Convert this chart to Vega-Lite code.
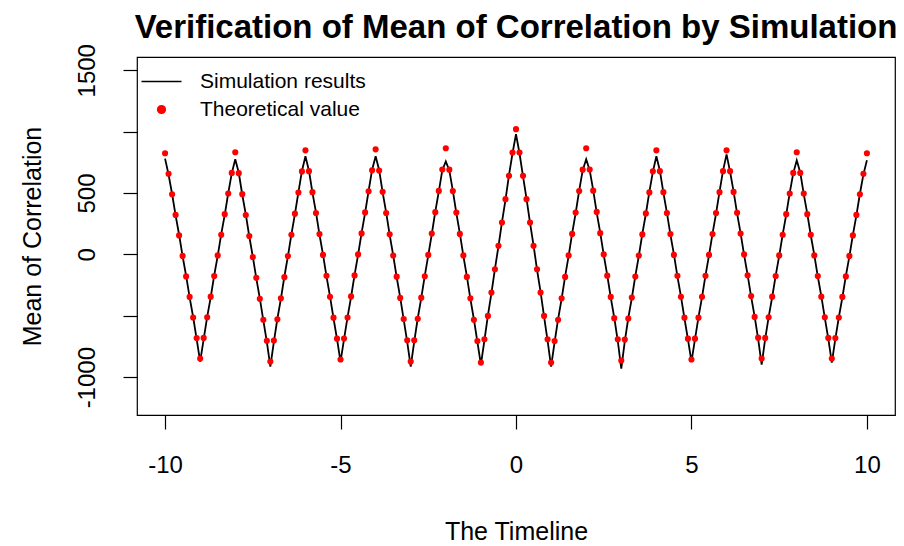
{
  "$schema": "https://vega.github.io/schema/vega-lite/v6.json",
  "width": 758,
  "height": 358,
  "autosize": {"type": "none"},
  "padding": {"left": 137, "top": 57, "right": 9, "bottom": 131},
  "background": "white",
  "title": {
    "text": "Verification of Mean of Correlation by Simulation",
    "font": "Liberation Sans",
    "fontSize": 33,
    "fontWeight": "bold",
    "color": "black",
    "anchor": "middle",
    "baseline": "alphabetic",
    "offset": -27
  },
  "config": {
    "view": {"stroke": "black", "strokeWidth": 1.2},
    "font": "Liberation Sans",
    "axis": {
      "grid": false,
      "domain": false,
      "tickColor": "black",
      "tickSize": 14,
      "tickWidth": 1.2,
      "labelFont": "Liberation Sans",
      "labelFontSize": 24,
      "labelColor": "black",
      "titleFont": "Liberation Sans",
      "titleFontSize": 25,
      "titleFontWeight": "normal",
      "titleColor": "black"
    }
  },
  "data": {
    "values": [
      {"x": -10, "t": 824, "s": 780}, {"x": -9.9, "t": 657, "s": 650}, {"x": -9.8, "t": 490, "s": 492}, {"x": -9.7, "t": 322, "s": 318}, {"x": -9.6, "t": 155, "s": 160},
      {"x": -9.5, "t": -12, "s": -15}, {"x": -9.4, "t": -179, "s": -175}, {"x": -9.3, "t": -346, "s": -350}, {"x": -9.2, "t": -514, "s": -510}, {"x": -9.1, "t": -681, "s": -690},
      {"x": -9, "t": -848, "s": -873}, {"x": -8.9, "t": -680, "s": -690}, {"x": -8.8, "t": -512, "s": -508}, {"x": -8.7, "t": -344, "s": -350}, {"x": -8.6, "t": -176, "s": -170},
      {"x": -8.5, "t": -8, "s": -12}, {"x": -8.4, "t": 160, "s": 165}, {"x": -8.3, "t": 328, "s": 322}, {"x": -8.2, "t": 496, "s": 500}, {"x": -8.1, "t": 664, "s": 660},
      {"x": -8, "t": 832, "s": 775}, {"x": -7.9, "t": 662, "s": 665}, {"x": -7.8, "t": 491, "s": 486}, {"x": -7.7, "t": 321, "s": 326}, {"x": -7.6, "t": 150, "s": 146},
      {"x": -7.5, "t": -21, "s": -18}, {"x": -7.4, "t": -191, "s": -196}, {"x": -7.3, "t": -362, "s": -358}, {"x": -7.2, "t": -532, "s": -538}, {"x": -7.1, "t": -703, "s": -712},
      {"x": -7, "t": -873, "s": -913}, {"x": -6.9, "t": -701, "s": -712}, {"x": -6.8, "t": -529, "s": -524}, {"x": -6.7, "t": -357, "s": -362}, {"x": -6.6, "t": -185, "s": -180},
      {"x": -6.5, "t": -13, "s": -16}, {"x": -6.4, "t": 160, "s": 164}, {"x": -6.3, "t": 332, "s": 328}, {"x": -6.2, "t": 504, "s": 508}, {"x": -6.1, "t": 676, "s": 680},
      {"x": -6, "t": 848, "s": 800}, {"x": -5.9, "t": 678, "s": 682}, {"x": -5.8, "t": 507, "s": 503}, {"x": -5.7, "t": 337, "s": 342}, {"x": -5.6, "t": 166, "s": 162},
      {"x": -5.5, "t": -4, "s": 0}, {"x": -5.4, "t": -174, "s": -178}, {"x": -5.3, "t": -345, "s": -341}, {"x": -5.2, "t": -515, "s": -520}, {"x": -5.1, "t": -686, "s": -690},
      {"x": -5, "t": -856, "s": -873}, {"x": -4.9, "t": -685, "s": -690}, {"x": -4.8, "t": -514, "s": -510}, {"x": -4.7, "t": -342, "s": -347}, {"x": -4.6, "t": -171, "s": -167},
      {"x": -4.5, "t": 0, "s": -4}, {"x": -4.4, "t": 171, "s": 175}, {"x": -4.3, "t": 342, "s": 338}, {"x": -4.2, "t": 514, "s": 518}, {"x": -4.1, "t": 685, "s": 690},
      {"x": -4, "t": 856, "s": 800}, {"x": -3.9, "t": 683, "s": 688}, {"x": -3.8, "t": 510, "s": 505}, {"x": -3.7, "t": 337, "s": 342}, {"x": -3.6, "t": 164, "s": 160},
      {"x": -3.5, "t": -9, "s": -5}, {"x": -3.4, "t": -181, "s": -186}, {"x": -3.3, "t": -354, "s": -350}, {"x": -3.2, "t": -527, "s": -532}, {"x": -3.1, "t": -700, "s": -712},
      {"x": -3, "t": -873, "s": -913}, {"x": -2.9, "t": -699, "s": -710}, {"x": -2.8, "t": -525, "s": -520}, {"x": -2.7, "t": -352, "s": -356}, {"x": -2.6, "t": -178, "s": -174},
      {"x": -2.5, "t": -4, "s": -8}, {"x": -2.4, "t": 170, "s": 166}, {"x": -2.3, "t": 344, "s": 349}, {"x": -2.2, "t": 517, "s": 512}, {"x": -2.1, "t": 691, "s": 686},
      {"x": -2, "t": 865, "s": 758}, {"x": -1.9, "t": 690, "s": 684}, {"x": -1.8, "t": 516, "s": 520}, {"x": -1.7, "t": 341, "s": 336}, {"x": -1.6, "t": 167, "s": 171},
      {"x": -1.5, "t": -8, "s": -12}, {"x": -1.4, "t": -183, "s": -179}, {"x": -1.3, "t": -357, "s": -362}, {"x": -1.2, "t": -532, "s": -528}, {"x": -1.1, "t": -706, "s": -712},
      {"x": -1, "t": -881, "s": -897}, {"x": -0.9, "t": -691, "s": -700}, {"x": -0.8, "t": -501, "s": -496}, {"x": -0.7, "t": -311, "s": -316}, {"x": -0.6, "t": -121, "s": -117},
      {"x": -0.5, "t": 70, "s": 66}, {"x": -0.4, "t": 260, "s": 264}, {"x": -0.3, "t": 450, "s": 445}, {"x": -0.2, "t": 640, "s": 645}, {"x": -0.1, "t": 830, "s": 822},
      {"x": 0, "t": 1020, "s": 980}, {"x": 0.1, "t": 830, "s": 824}, {"x": 0.2, "t": 640, "s": 636}, {"x": 0.3, "t": 450, "s": 455}, {"x": 0.4, "t": 260, "s": 256},
      {"x": 0.5, "t": 70, "s": 74}, {"x": 0.6, "t": -121, "s": -125}, {"x": 0.7, "t": -311, "s": -306}, {"x": 0.8, "t": -501, "s": -506}, {"x": 0.9, "t": -691, "s": -702},
      {"x": 1, "t": -881, "s": -913}, {"x": 1.1, "t": -706, "s": -715}, {"x": 1.2, "t": -532, "s": -527}, {"x": 1.3, "t": -357, "s": -362}, {"x": 1.4, "t": -183, "s": -178},
      {"x": 1.5, "t": -8, "s": -12}, {"x": 1.6, "t": 167, "s": 171}, {"x": 1.7, "t": 341, "s": 336}, {"x": 1.8, "t": 516, "s": 520}, {"x": 1.9, "t": 690, "s": 684},
      {"x": 2, "t": 865, "s": 775}, {"x": 2.1, "t": 692, "s": 686}, {"x": 2.2, "t": 519, "s": 523}, {"x": 2.3, "t": 346, "s": 341}, {"x": 2.4, "t": 173, "s": 177},
      {"x": 2.5, "t": 0, "s": -4}, {"x": 2.6, "t": -173, "s": -169}, {"x": 2.7, "t": -346, "s": -351}, {"x": 2.8, "t": -519, "s": -515}, {"x": 2.9, "t": -692, "s": -705},
      {"x": 3, "t": -865, "s": -930}, {"x": 3.1, "t": -694, "s": -708}, {"x": 3.2, "t": -522, "s": -518}, {"x": 3.3, "t": -351, "s": -356}, {"x": 3.4, "t": -180, "s": -176},
      {"x": 3.5, "t": -9, "s": -13}, {"x": 3.6, "t": 163, "s": 167}, {"x": 3.7, "t": 334, "s": 329}, {"x": 3.8, "t": 505, "s": 510}, {"x": 3.9, "t": 677, "s": 672},
      {"x": 4, "t": 848, "s": 800}, {"x": 4.1, "t": 678, "s": 683}, {"x": 4.2, "t": 507, "s": 503}, {"x": 4.3, "t": 337, "s": 341}, {"x": 4.4, "t": 166, "s": 162},
      {"x": 4.5, "t": -4, "s": 0}, {"x": 4.6, "t": -174, "s": -178}, {"x": 4.7, "t": -345, "s": -341}, {"x": 4.8, "t": -515, "s": -520}, {"x": 4.9, "t": -686, "s": -692},
      {"x": 5, "t": -856, "s": -873}, {"x": 5.1, "t": -686, "s": -692}, {"x": 5.2, "t": -515, "s": -511}, {"x": 5.3, "t": -345, "s": -350}, {"x": 5.4, "t": -174, "s": -170},
      {"x": 5.5, "t": -4, "s": -8}, {"x": 5.6, "t": 166, "s": 170}, {"x": 5.7, "t": 337, "s": 332}, {"x": 5.8, "t": 507, "s": 512}, {"x": 5.9, "t": 678, "s": 683},
      {"x": 6, "t": 848, "s": 815}, {"x": 6.1, "t": 678, "s": 674}, {"x": 6.2, "t": 509, "s": 513}, {"x": 6.3, "t": 339, "s": 335}, {"x": 6.4, "t": 170, "s": 174},
      {"x": 6.5, "t": 0, "s": -4}, {"x": 6.6, "t": -170, "s": -166}, {"x": 6.7, "t": -339, "s": -344}, {"x": 6.8, "t": -509, "s": -505}, {"x": 6.9, "t": -678, "s": -688},
      {"x": 7, "t": -848, "s": -897}, {"x": 7.1, "t": -680, "s": -690}, {"x": 7.2, "t": -512, "s": -508}, {"x": 7.3, "t": -344, "s": -349}, {"x": 7.4, "t": -176, "s": -172},
      {"x": 7.5, "t": -8, "s": -12}, {"x": 7.6, "t": 160, "s": 164}, {"x": 7.7, "t": 328, "s": 324}, {"x": 7.8, "t": 496, "s": 501}, {"x": 7.9, "t": 664, "s": 660},
      {"x": 8, "t": 832, "s": 767}, {"x": 8.1, "t": 664, "s": 668}, {"x": 8.2, "t": 496, "s": 491}, {"x": 8.3, "t": 328, "s": 332}, {"x": 8.4, "t": 160, "s": 156},
      {"x": 8.5, "t": -8, "s": -4}, {"x": 8.6, "t": -176, "s": -180}, {"x": 8.7, "t": -344, "s": -340}, {"x": 8.8, "t": -512, "s": -517}, {"x": 8.9, "t": -680, "s": -688},
      {"x": 9, "t": -848, "s": -881}, {"x": 9.1, "t": -681, "s": -688}, {"x": 9.2, "t": -514, "s": -510}, {"x": 9.3, "t": -346, "s": -351}, {"x": 9.4, "t": -179, "s": -175},
      {"x": 9.5, "t": -12, "s": -16}, {"x": 9.6, "t": 155, "s": 159}, {"x": 9.7, "t": 322, "s": 318}, {"x": 9.8, "t": 490, "s": 494}, {"x": 9.9, "t": 657, "s": 652},
      {"x": 10, "t": 824, "s": 767}
    ]
  },
  "encoding": {
    "x": {
      "field": "x",
      "type": "quantitative",
      "scale": {"domain": [-10.8, 10.8], "nice": false, "zero": false},
      "axis": {
        "title": "The Timeline",
        "values": [-10, -5, 0, 5, 10],
        "labelExpr": "'' + datum.value",
        "labelPadding": 24,
        "titlePadding": 42
      }
    }
  },
  "layer": [
    {
      "mark": {"type": "line", "strokeWidth": 1.8, "clip": true},
      "encoding": {
        "y": {
          "field": "s",
          "type": "quantitative",
          "scale": {"domain": [-1308, 1608], "nice": false, "zero": false},
          "axis": {
            "title": "Mean of Correlation",
            "values": [-1000, -500, 0, 500, 1000, 1500],
            "labelExpr": "datum.value == 1000 || datum.value == -500 ? '' : '' + datum.value",
            "labelAngle": 270,
            "labelAlign": "center",
            "labelBaseline": "bottom",
            "labelPadding": 24,
            "titlePadding": 30
          }
        },
        "color": {
          "datum": "Simulation results",
          "type": "nominal",
          "scale": {"domain": ["Simulation results", "Theoretical value"], "range": ["black", "red"]},
          "legend": {
            "title": null,
            "orient": "none",
            "legendX": 14,
            "legendY": 14,
            "symbolSize": 1600,
            "symbolStrokeWidth": 1.5,
            "labelFont": "Liberation Sans",
            "labelFontSize": 21,
            "labelColor": "black",
            "labelLimit": 0,
            "labelOffset": 28,
            "rowPadding": 6,
            "padding": 0,
            "encode": {
              "symbols": {
                "update": {
                  "shape": {"signal": "datum.value == 'Simulation results' ? 'stroke' : 'circle'"},
                  "size": {"signal": "datum.value == 'Simulation results' ? 1600 : 60"},
                  "fill": {"signal": "datum.value == 'Simulation results' ? 'transparent' : 'red'"},
                  "stroke": {"signal": "datum.value == 'Simulation results' ? 'black' : 'red'"},
                  "strokeWidth": {"value": 1.5}
                }
              }
            }
          }
        }
      }
    },
    {
      "mark": {"type": "point", "filled": true, "size": 38, "opacity": 1, "clip": true},
      "encoding": {
        "y": {"field": "t", "type": "quantitative"},
        "color": {"datum": "Theoretical value", "type": "nominal"}
      }
    }
  ]
}
